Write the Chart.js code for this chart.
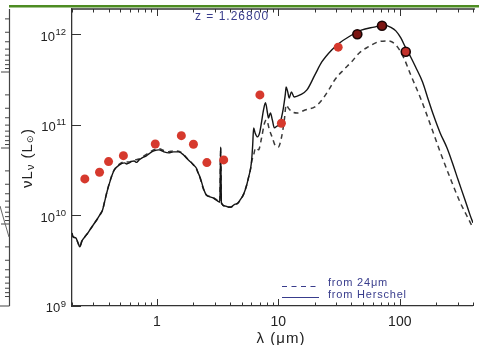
<!DOCTYPE html>
<html>
<head>
<meta charset="utf-8">
<script src="https://cdn.jsdelivr.net/npm/chart.js@4/dist/chart.umd.min.js"></script>
<style>
  html, body { margin: 0; padding: 0; background: #fff; }
  canvas { display: block; }
</style>
</head>
<body>
<canvas id="sed" width="479" height="345"></canvas>
<script>
// SED model fitted with Herschel photometry (solid line)
const herWave = [0.200, 0.204, 0.215, 0.224, 0.232, 0.241, 0.255, 0.270, 0.280, 0.308, 0.338, 0.357, 0.371, 0.392,
  0.415, 0.431, 0.447, 0.491, 0.539, 0.565, 0.592, 0.620, 0.650, 0.680, 0.714, 0.750, 0.784, 0.820, 0.861, 0.900, 0.945, 1.04, 1.14, 1.25, 1.37, 1.51,
  1.66, 1.75, 1.89, 2.00, 2.11, 2.19, 2.28, 2.41, 2.55, 2.75, 2.90, 3.07, 3.25, 3.30, 3.35, 3.40, 3.64, 3.85,
  4.07, 4.31, 4.64, 4.91, 5.19, 5.49, 5.70, 5.92, 6.03, 6.15, 6.26, 6.44, 6.74, 7.01, 7.28, 7.55, 7.84, 8.14,
  8.29, 8.61, 8.93, 9.27, 9.82, 10.2, 10.6, 11.0, 11.4, 11.6, 11.95, 12.3, 12.8, 13.5, 15.1, 17.2, 20.0, 22.8,
  27.5, 31.9, 37.8, 48.2, 61.5, 74.1, 84.5, 92.8, 102, 112, 123, 135, 154, 172, 189, 215, 245, 275, 302, 344, 378, 400];
const herLum = [6.4e9, 5.8e9, 5.65e9, 4.97e9, 4.49e9, 5.2e9, 5.8e9, 6.4e9, 6.9e9, 8.3e9, 1.01e10, 1.15e10, 1.41e10, 1.91e10,
  2.47e10, 2.87e10, 3.18e10, 3.61e10, 3.80e10, 3.70e10, 3.80e10, 3.95e10, 3.99e10, 3.85e10, 4.10e10, 4.30e10, 4.43e10, 4.55e10, 4.78e10, 5.0e10, 5.16e10, 5.29e10, 5.03e10, 4.90e10, 5.03e10, 5.03e10,
  4.65e10, 4.31e10, 3.90e10, 3.61e10, 3.34e10, 2.94e10, 2.59e10, 2.01e10, 1.69e10, 1.60e10, 1.56e10, 1.48e10, 1.41e10, 1.40e10, 5.7e10, 1.37e10, 1.27e10, 1.24e10,
  1.24e10, 1.31e10, 1.37e10, 1.52e10, 1.73e10, 2.17e10, 2.66e10, 3.34e10, 4.1e10, 6.0e10, 9.25e10, 8.14e10, 7.36e10, 8.14e10, 1.08e11, 1.46e11, 1.75e11, 1.35e11,
  1.19e11, 1.35e11, 1.13e11, 9.25e10, 9.73e10, 9.98e10, 1.19e11, 1.53e11, 2.14e11, 2.62e11, 2.31e11, 1.98e11, 2.31e11, 2.03e11, 2.14e11, 2.43e11, 3.56e11, 4.94e11,
  6.71e11, 8.02e11, 9.33e11, 1.11e12, 1.20e12, 1.26e12, 1.19e12, 1.09e12, 9.1e11, 7.06e11, 5.61e11, 4.35e11, 2.97e11, 1.88e11, 1.29e11, 8.14e10, 5.56e10, 3.61e10, 2.47e10, 1.49e10, 1.02e10, 8.3e9];

// SED model extrapolated from 24um (dashed line)
const irWave = [0.200, 0.204, 0.215, 0.224, 0.232, 0.241, 0.255, 0.270, 0.280, 0.308, 0.338, 0.357, 0.371, 0.392,
  0.415, 0.431, 0.447, 0.491, 0.539, 0.592, 0.650, 0.714, 0.784, 0.861, 0.945, 1.04, 1.14, 1.25, 1.37, 1.51,
  1.66, 1.75, 1.89, 2.00, 2.11, 2.19, 2.28, 2.41, 2.55, 2.75, 2.90, 3.07, 3.25, 3.30, 3.35, 3.40, 3.64, 3.85,
  4.07, 4.31, 4.64, 4.91, 5.19, 5.49, 5.70, 5.92, 6.03, 6.26, 6.50, 6.87, 7.28, 7.70, 8.00, 8.45, 8.93, 9.46,
  10.0, 10.6, 11.2, 11.6, 12.1, 13.0, 14.3, 16.6, 20.0, 22.8, 26.0, 29.1, 34.4, 40.0, 46.4, 54.9, 66.2, 79.9,
  92.8, 108, 123, 148, 179, 215, 260, 313, 378, 400];
const irLum = [6.3e9, 5.8e9, 5.6e9, 5.0e9, 4.5e9, 5.2e9, 5.8e9, 6.4e9, 6.9e9, 8.3e9, 1.0e10, 1.15e10, 1.42e10, 1.93e10,
  2.5e10, 2.9e10, 3.22e10, 3.68e10, 3.9e10, 3.9e10, 4.08e10, 4.2e10, 4.55e10, 4.92e10, 5.3e10, 5.45e10, 5.2e10, 5.05e10, 5.15e10, 5.12e10,
  4.72e10, 4.36e10, 3.95e10, 3.62e10, 3.3e10, 2.9e10, 2.52e10, 1.97e10, 1.68e10, 1.62e10, 1.58e10, 1.5e10, 1.42e10, 1.4e10, 5.6e10, 1.37e10, 1.27e10, 1.23e10,
  1.23e10, 1.3e10, 1.36e10, 1.5e10, 1.73e10, 2.17e10, 2.66e10, 3.3e10, 3.9e10, 4.65e10, 5.57e10, 5.3e10, 7.2e10, 1.05e11, 1.13e11, 8.8e10, 7.2e10, 5.86e10,
  5.71e10, 7.2e10, 1.13e11, 1.66e11, 1.53e11, 1.39e11, 1.35e11, 1.46e11, 1.58e11, 1.88e11, 2.43e11, 3.13e11, 4.04e11, 4.94e11, 6.22e11, 7.24e11, 8.22e11, 8.44e11,
  7.62e11, 5.47e11, 3.56e11, 1.98e11, 9.98e10, 5.02e10, 2.59e10, 1.41e10, 8.5e9, 7.3e9];

// observed photometry (red dots); last three are Herschel bands
const photWave = [0.255, 0.337, 0.40, 0.53, 0.97, 1.59, 2.0, 2.58, 3.55, 7.05, 10.6, 31.1, 44.7, 71.4, 112];
const photLum = [2.53e10, 3.0e10, 3.93e10, 4.57e10, 6.15e10, 7.6e10, 6.1e10, 3.83e10, 4.1e10, 2.14e11, 1.04e11, 7.2e11, 1.0e12, 1.24e12, 6.4e11];
const photHerschel = [false, false, false, false, false, false, false, false, false, false, false, false, true, true, true];

const xTickValues = [1, 10, 100];
const xTickLabels = ['1', '10', '100'];
const yTickExponents = [9, 10, 11, 12];

const titleText = 'z = 1.26800';
const legendLabels = ['from 24\u03bcm', 'from Herschel'];

const navy = '#383c8c';
const font = '"Liberation Sans", Arial, sans-serif';

function toPoints(xs, ys) {
  return xs.map((x, i) => ({ x: x, y: ys[i] }));
}

function minorTicks(lo, hi, majors) {
  const out = [];
  for (let e = -2; e <= 3; e++) {
    for (let k = 1; k <= 9; k++) {
      const v = k * Math.pow(10, e);
      if (v >= lo * 0.999 && v <= hi * 1.001 && !majors.some(m => Math.abs(m - v) / m < 1e-6)) out.push(v);
    }
  }
  return out;
}

// IDL-style axes, labels, title, legend and the page decorations
const idlDecor = {
  id: 'idlDecor',
  afterDraw(chart) {
    const ctx = chart.ctx;
    const a = chart.chartArea;
    const xs = chart.scales.x, ys = chart.scales.y;
    ctx.save();

    // green rule and the edge of the neighbouring panel
    ctx.fillStyle = '#4d8c22';
    ctx.fillRect(9, 5, 470, 2.5);
    ctx.strokeStyle = '#444';
    ctx.lineWidth = 1.2;
    ctx.beginPath();
    ctx.moveTo(9.5, 9); ctx.lineTo(9.5, 306);
    ctx.moveTo(0, 306); ctx.lineTo(9.5, 306);
    ctx.stroke();
    ctx.lineWidth = 1;
    ctx.beginPath();
    [-4, 72, 148, 224].forEach(m => {
      ctx.moveTo(9.5, m); ctx.lineTo(1, m);
      for (let k = 2; k <= 9; k++) {
        const y = m + 76 * Math.log10(k);
        if (y > 10 && y < 305) { ctx.moveTo(9.5, y); ctx.lineTo(5, y); }
      }
    });
    ctx.stroke();
    ctx.strokeStyle = '#666';
    ctx.beginPath();
    ctx.moveTo(0, 206); ctx.lineTo(4, 220); ctx.lineTo(9, 237);
    ctx.stroke();

    // frame: top line
    ctx.strokeStyle = '#333';
    ctx.lineWidth = 1.3;
    ctx.beginPath();
    ctx.moveTo(a.left, a.top); ctx.lineTo(a.right + 2, a.top);
    ctx.stroke();

    // x ticks (bottom and top, pointing in)
    ctx.lineWidth = 1;
    ctx.beginPath();
    xTickValues.forEach(v => {
      const px = Math.round(xs.getPixelForValue(v)) + 0.5;
      ctx.moveTo(px, a.bottom); ctx.lineTo(px, a.bottom - 7);
      ctx.moveTo(px, a.top); ctx.lineTo(px, a.top + 7);
    });
    minorTicks(xs.min, xs.max, xTickValues).forEach(v => {
      const px = Math.round(xs.getPixelForValue(v)) + 0.5;
      ctx.moveTo(px, a.bottom); ctx.lineTo(px, a.bottom - 3.5);
      ctx.moveTo(px, a.top); ctx.lineTo(px, a.top + 3.5);
    });
    // y ticks (left, pointing in)
    const yMajors = yTickExponents.map(e => Math.pow(10, e));
    yMajors.forEach(v => {
      const py = Math.round(ys.getPixelForValue(v)) + 0.5;
      ctx.moveTo(a.left, py); ctx.lineTo(a.left + 9, py);
    });
    minorTicks(ys.min, ys.max, yMajors).forEach(v => {
      const py = Math.round(ys.getPixelForValue(v)) + 0.5;
      ctx.moveTo(a.left, py); ctx.lineTo(a.left + 4.5, py);
    });
    ctx.stroke();

    // x tick labels
    ctx.fillStyle = '#222';
    ctx.font = '14px ' + font;
    ctx.textAlign = 'center';
    ctx.textBaseline = 'middle';
    xTickValues.forEach((v, i) => {
      ctx.fillText(xTickLabels[i], xs.getPixelForValue(v), 322);
    });

    // y tick labels 10^n
    yTickExponents.forEach(e => {
      const py = ys.getPixelForValue(Math.pow(10, e));
      ctx.font = '9.5px ' + font;
      ctx.textAlign = 'right';
      ctx.textBaseline = 'alphabetic';
      const ew = ctx.measureText(String(e)).width;
      ctx.fillText(String(e), 66, py + 0.5);
      ctx.font = '13px ' + font;
      ctx.fillText('10', 66 - ew - 0.5, py + 6.3);
    });

    // x axis title
    ctx.font = '15px ' + font;
    ctx.textAlign = 'center';
    ctx.textBaseline = 'alphabetic';
    ctx.letterSpacing = '1px';
    ctx.fillText('\u03bb (\u03bcm)', 281, 343);

    // y axis title, rotated
    ctx.save();
    ctx.translate(28, 158);
    ctx.rotate(-Math.PI / 2);
    const parts = [['\u03bd', 15, 0], ['L', 15, 0], ['\u03bd', 11, 3], [' (', 15, 0], ['L', 15, 0], ['\u2299', 9, 3], [')', 15, 0]];
    let total = 0;
    parts.forEach(p => { ctx.font = p[1] + 'px ' + font; total += ctx.measureText(p[0]).width; });
    let cx = -total / 2;
    ctx.textAlign = 'left';
    ctx.textBaseline = 'middle';
    parts.forEach(p => {
      ctx.font = p[1] + 'px ' + font;
      ctx.fillText(p[0], cx, p[2]);
      cx += ctx.measureText(p[0]).width;
    });
    ctx.restore();

    // redshift label
    ctx.fillStyle = navy;
    ctx.font = '12px ' + font;
    ctx.letterSpacing = '1px';
    ctx.textAlign = 'left';
    ctx.textBaseline = 'middle';
    ctx.fillText(titleText, 195, 17);

    // legend
    ctx.strokeStyle = navy;
    ctx.lineWidth = 1.2;
    ctx.setLineDash([5, 4.5]);
    ctx.beginPath(); ctx.moveTo(282, 286.5); ctx.lineTo(319, 286.5); ctx.stroke();
    ctx.setLineDash([]);
    ctx.beginPath(); ctx.moveTo(282, 297.5); ctx.lineTo(319, 297.5); ctx.stroke();
    ctx.font = '11px ' + font;
    ctx.letterSpacing = '0.8px';
    ctx.fillText(legendLabels[0], 328, 283);
    ctx.fillText(legendLabels[1], 328, 294.5);

    ctx.restore();
  }
};

const ctx = document.getElementById('sed').getContext('2d');
new Chart(ctx, {
  type: 'scatter',
  data: {
    datasets: [
      {
        label: 'photometry',
        data: toPoints(photWave, photLum),
        order: 0,
        pointRadius: 4.5,
        pointBackgroundColor: photHerschel.map((h, i) => h ? (i === photHerschel.length - 1 ? '#c3302a' : '#7c1512') : '#d6392d'),
        pointBorderColor: photHerschel.map(h => h ? '#1a0606' : 'rgba(0,0,0,0)'),
        pointBorderWidth: photHerschel.map(h => h ? 1.6 : 0)
      },
      {
        label: legendLabels[1],
        data: toPoints(herWave, herLum),
        order: 1,
        showLine: true,
        pointRadius: 0,
        borderColor: '#151515',
        borderWidth: 1.4,
        cubicInterpolationMode: 'monotone'
      },
      {
        label: legendLabels[0],
        data: toPoints(irWave, irLum),
        order: 2,
        showLine: true,
        pointRadius: 0,
        borderColor: '#3a3a3a',
        borderWidth: 1.5,
        borderDash: [5, 4],
        cubicInterpolationMode: 'monotone'
      }
    ]
  },
  options: {
    responsive: false,
    animation: false,
    devicePixelRatio: 1,
    layout: { padding: { top: 9, right: 1, left: 0, bottom: 0 } },
    plugins: {
      legend: { display: false },
      tooltip: { enabled: false }
    },
    scales: {
      x: {
        type: 'logarithmic',
        min: 0.2,
        max: 400,
        grid: { display: false, drawTicks: false },
        border: { display: true, color: '#333', width: 1.3 },
        ticks: { display: false },
        afterFit: s => { s.height = 39; }
      },
      y: {
        type: 'logarithmic',
        min: 1e9,
        max: 1.9e12,
        grid: { display: false, drawTicks: false },
        border: { display: true, color: '#333', width: 1.3 },
        ticks: { display: false },
        afterFit: s => { s.width = 72; }
      }
    }
  },
  plugins: [idlDecor]
});
</script>
</body>
</html>
